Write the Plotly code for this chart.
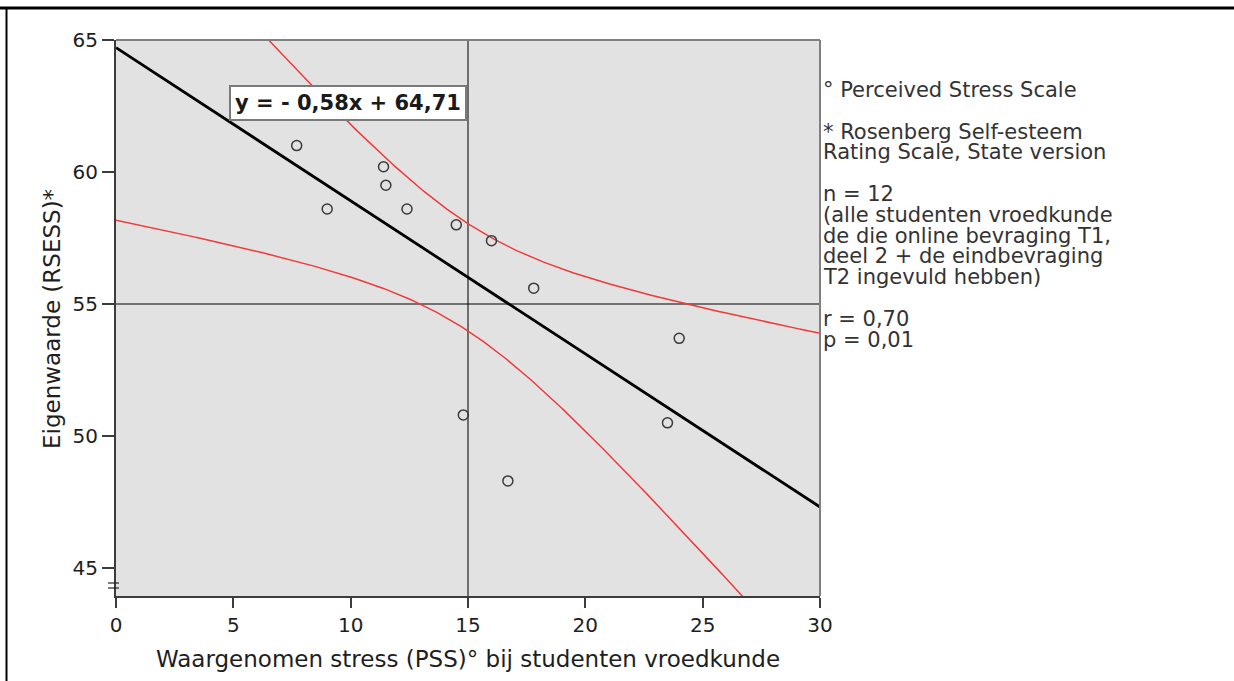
import numpy as np
import plotly.graph_objects as go

# Perceived stress (PSS) vs. self-esteem (RSESS), student midwives, n = 12
pss = [7.7, 9.0, 11.4, 11.5, 12.4, 14.5, 16.0, 17.8, 24.0, 14.8, 23.5, 16.7]
rsess = [61.0, 58.6, 60.2, 59.5, 58.6, 58.0, 57.4, 55.6, 53.7, 50.8, 50.5, 48.3]

# Fitted line as reported in the equation label
SLOPE = -0.58
INTERCEPT = 64.71
T_CRIT = 2.228  # t(0.975, df = 10)

# Reference lines (means)
MEAN_X_LINE = 15
MEAN_Y_LINE = 55

x_ticks = [0, 5, 10, 15, 20, 25, 30]
y_ticks = [45, 50, 55, 60, 65]
X_RANGE = [0, 30]
Y_RANGE = [43.94, 65]

notes = [
    "° Perceived Stress Scale",
    "",
    "* Rosenberg Self-esteem",
    "Rating Scale, State version",
    "",
    "n = 12",
    "(alle studenten vroedkunde",
    "de die online bevraging T1,",
    "deel 2 + de eindbevraging",
    "T2 ingevuld hebben)",
    "",
    "r = 0,70",
    "p = 0,01",
]

FONT = "DejaVu Sans"
TXT = "#1e1e1e"

# 95% confidence band for the mean prediction
x = np.array(pss)
y = np.array(rsess)
n = len(x)
xbar = x.mean()
sxx = ((x - xbar) ** 2).sum()
resid = y - (SLOPE * x + INTERCEPT)
s = np.sqrt((resid ** 2).sum() / (n - 2))
xg = np.linspace(X_RANGE[0], X_RANGE[1], 401)
yfit = SLOPE * xg + INTERCEPT
half = T_CRIT * s * np.sqrt(1 / n + (xg - xbar) ** 2 / sxx)

fig = go.Figure()

fig.add_trace(go.Scatter(x=xg, y=yfit + half, mode="lines",
                         line=dict(color="#f03a3a", width=1.5), hoverinfo="skip"))
fig.add_trace(go.Scatter(x=xg, y=yfit - half, mode="lines",
                         line=dict(color="#f03a3a", width=1.5), hoverinfo="skip"))
fig.add_trace(go.Scatter(x=[X_RANGE[0], X_RANGE[1]],
                         y=[SLOPE * X_RANGE[0] + INTERCEPT, SLOPE * X_RANGE[1] + INTERCEPT],
                         mode="lines", line=dict(color="black", width=2.8), hoverinfo="skip"))
fig.add_trace(go.Scatter(x=pss, y=rsess, mode="markers",
                         marker=dict(symbol="circle-open", size=10,
                                     color="#3a3a3a", line=dict(width=1.5))))

# mean reference lines
fig.add_shape(type="line", xref="x", yref="paper", x0=MEAN_X_LINE, x1=MEAN_X_LINE,
              y0=0, y1=1, line=dict(color="#6e6e6e", width=2), layer="below")
fig.add_shape(type="line", xref="paper", yref="y", x0=0, x1=1,
              y0=MEAN_Y_LINE, y1=MEAN_Y_LINE, line=dict(color="black", width=1), layer="below")

# top / right frame of the plot area
fig.add_shape(type="line", xref="paper", yref="paper", x0=0, x1=1, y0=1, y1=1,
              line=dict(color="#808080", width=2))
fig.add_shape(type="line", xref="paper", yref="paper", x0=1, x1=1, y0=0, y1=1,
              line=dict(color="#808080", width=2))

# axis break marks on the y axis
W, H = 1234, 681
L, R, T, B = 116, 414, 40, 85
pw, ph = W - L - R, H - T - B


def px(v):
    return (v - L) / pw


def py(v):
    return (H - B - v) / ph


for yy in (583, 588):
    fig.add_shape(type="line", xref="paper", yref="paper", x0=px(108), x1=px(119),
                  y0=py(yy), y1=py(yy), line=dict(color="#222", width=1.2))

# page frame
fig.add_shape(type="line", xref="paper", yref="paper", x0=px(0), x1=px(W),
              y0=py(8), y1=py(8), line=dict(color="black", width=3))
fig.add_shape(type="line", xref="paper", yref="paper", x0=px(6.5), x1=px(6.5),
              y0=py(8), y1=py(H + 5), line=dict(color="black", width=2))

annotations = [
    dict(text="<b>y = - 0,58x + 64,71</b>", xref="paper", yref="paper",
         x=px(348), y=py(103.5), xanchor="center", yanchor="middle", showarrow=False,
         font=dict(family=FONT, size=21, color="#1a1a1a"),
         bgcolor="white", bordercolor="#7a7a7a", borderwidth=2, borderpad=4),
    dict(text="Waargenomen stress (PSS)° bij studenten vroedkunde", xref="paper", yref="paper",
         x=px(468), y=py(659), xanchor="center", yanchor="middle", showarrow=False,
         font=dict(family=FONT, size=23, color=TXT)),
    dict(text="Eigenwaarde (RSESS)*", xref="paper", yref="paper",
         x=px(52), y=py(319), xanchor="center", yanchor="middle", showarrow=False,
         textangle=-90, font=dict(family=FONT, size=23, color=TXT)),
]

line_y0 = 90
step = 20.8
for i, t in enumerate(notes):
    if not t:
        continue
    annotations.append(dict(text=t, xref="paper", yref="paper",
                            x=px(821), y=py(line_y0 + i * step),
                            xanchor="left", yanchor="middle", showarrow=False,
                            font=dict(family=FONT, size=21, color="#333")))

fig.update_layout(
    width=W, height=H, autosize=False,
    margin=dict(l=L, r=R, t=T, b=B),
    paper_bgcolor="white", plot_bgcolor="#e2e2e2",
    showlegend=False,
    annotations=annotations,
    font=dict(family=FONT, color=TXT),
)
fig.update_xaxes(range=X_RANGE, tickvals=x_ticks, ticktext=[str(v) for v in x_ticks],
                 showgrid=False, zeroline=False, showline=True, linecolor="#3c3c3c", linewidth=2,
                 ticks="outside", ticklen=10, tickwidth=2, tickcolor="#3c3c3c",
                 tickfont=dict(family=FONT, size=20, color=TXT))
fig.update_yaxes(range=Y_RANGE, tickvals=y_ticks, ticktext=[str(v) for v in y_ticks],
                 showgrid=False, zeroline=False, showline=True, linecolor="#3c3c3c", linewidth=2,
                 ticks="outside", ticklen=12, tickwidth=2, tickcolor="#3c3c3c",
                 tickfont=dict(family=FONT, size=20, color=TXT))

fig.write_html("out.html")
